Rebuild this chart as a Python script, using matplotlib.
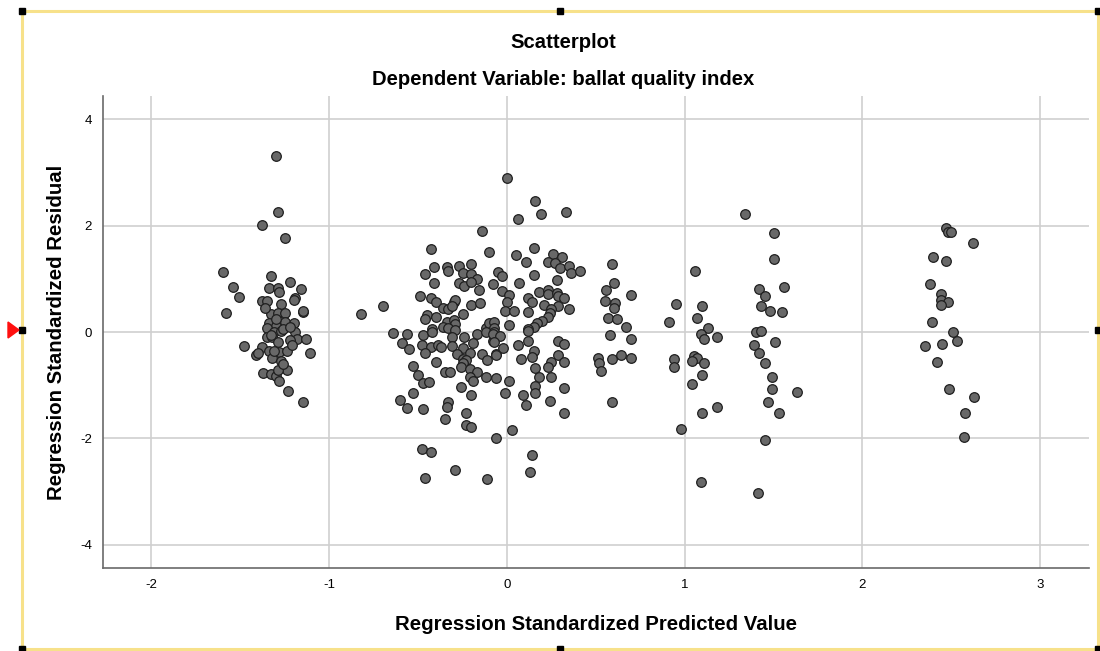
import matplotlib.pyplot as plt
import numpy as np
from matplotlib.patches import Rectangle, Polygon

plt.switch_backend('Agg')
plt.rcParams['font.family'] = ['Liberation Sans', 'DejaVu Sans']

# standardized predicted value / standardized residual, grouped by predicted band
pred_band1 = [-1.30, -1.29, -1.38, -1.25, -1.60, -1.33, -1.54, -1.34, -1.29, -1.28,
              -1.22, -1.16, -1.51, -1.19, -1.38, -1.35, -1.27, -1.15, -1.15, -1.58,
              -1.33, -1.29, -1.25, -1.34, -1.25, -1.20, -1.30, -1.35, -1.31, -1.27,
              -1.19, -1.18, -1.13, -1.35, -1.32, -1.29, -1.22, -1.48, -1.38, -1.34,
              -1.28, -1.24, -1.21, -1.41, -1.32, -1.27, -1.11, -1.37, -1.33, -1.30,
              -1.28, -1.24, -1.29, -1.23, -1.15, -1.30, -1.26, -1.33, -1.22, -1.36,
              -1.26, -1.31, -1.20, -1.40]
resid_band1 = [3.31, 2.26, 2.01, 1.77, 1.13, 1.05, 0.85, 0.83, 0.83, 0.75,
               0.94, 0.81, 0.66, 0.64, 0.58, 0.58, 0.53, 0.38, 0.39, 0.36,
               0.34, 0.36, 0.36, 0.17, 0.19, 0.17, 0.11, 0.08, 0.00, 0.02,
               0.00, -0.13, -0.13, -0.09, -0.09, -0.19, -0.15, -0.26, -0.28, -0.36,
               -0.38, -0.36, -0.24, -0.43, -0.49, -0.55, -0.39, -0.77, -0.79, -0.83,
               -0.92, -0.71, -0.71, -1.11, -1.32, 0.25, 0.05, -0.05, 0.10, 0.45,
               -0.60, -0.35, 0.60, -0.40]

pred_band2 = [-0.82, -0.70, -0.64, -0.60,
              -0.14, -0.43, -0.10, -0.46, -0.41, -0.34, -0.33, -0.27, -0.20, -0.25,
              -0.20, -0.17, -0.41, -0.27, -0.24, -0.20, -0.16, -0.08, -0.49, -0.43,
              -0.40, -0.36, -0.33, -0.30, -0.29, -0.31, -0.25, -0.20, -0.15, -0.45,
              -0.40, -0.46, -0.34, -0.30, -0.29, -0.42, -0.36, -0.33, -0.29, -0.12,
              -0.10,
              0.15, 0.05, 0.11, 0.26, 0.31, 0.23, 0.27, 0.30, 0.35, 0.36,
              0.41, -0.05, -0.03, 0.15, 0.28, 0.07, -0.03, 0.01, 0.18, 0.23,
              0.23, 0.28, 0.29, 0.32, 0.12, 0.14, 0.00, 0.21, 0.29, 0.25,
              0.35, -0.01, 0.04, 0.12, 0.24, 0.23, 0.20, 0.17, 0.15, 0.12,
              0.01, -0.07, -0.07, 0.00, 0.16, 0.19, 0.33, 0.06,
              -0.56, -0.47, -0.42, -0.31, -0.24, -0.17, -0.12, -0.07, -0.59, -0.48,
              -0.43, -0.39, -0.37, -0.31, -0.25, -0.19, -0.08, -0.55, -0.46, -0.28,
              -0.21, -0.14, -0.06, -0.25, -0.23, -0.11, -0.25, -0.40, -0.53, -0.26,
              -0.21, -0.35, -0.32, -0.17, -0.50, -0.21, -0.12, -0.06, -0.47, -0.44,
              -0.19, -0.26, -0.53, -0.20, -0.33, -0.34, -0.56, -0.47, -0.23, -0.35,
              -0.23, -0.20, -0.06,
              -0.08, -0.04, -0.07, 0.12, 0.06, 0.12, 0.29, 0.32, -0.02, -0.06,
              0.15, 0.14, 0.08, 0.29, 0.25, 0.32, 0.23, 0.16, 0.18, 0.25,
              0.01, 0.16, 0.16, -0.01, 0.09, 0.32, 0.11, 0.24, 0.32, 0.03,
              -0.48, -0.43, -0.46, -0.29, 0.14, 0.13, -0.11]
resid_band2 = [0.34, 0.49, -0.02, -1.28,
               1.90, 1.56, 1.50, 1.09, 1.22, 1.22, 1.15, 1.24, 1.28, 1.11,
               1.09, 1.00, 0.92, 0.92, 0.86, 0.94, 0.79, 0.90, 0.68, 0.64,
               0.56, 0.45, 0.43, 0.56, 0.60, 0.49, 0.34, 0.51, 0.55, 0.32,
               0.28, 0.24, 0.19, 0.23, 0.15, 0.06, 0.09, 0.08, 0.04, 0.08,
               0.17,
               1.58, 1.45, 1.32, 1.47, 1.41, 1.32, 1.30, 1.20, 1.24, 1.11,
               1.15, 1.13, 1.05, 1.07, 0.98, 0.92, 0.77, 0.70, 0.75, 0.79,
               0.71, 0.73, 0.68, 0.64, 0.64, 0.56, 0.56, 0.51, 0.49, 0.43,
               0.43, 0.39, 0.39, 0.38, 0.36, 0.28, 0.21, 0.17, 0.09, 0.06,
               0.13, 0.19, 0.08, 2.90, 2.46, 2.22, 2.26, 2.12,
               -0.04, -0.06, 0.00, -0.09, -0.09, -0.04, 0.00, 0.00, -0.21, -0.24,
               -0.28, -0.24, -0.28, -0.26, -0.30, -0.21, -0.17, -0.32, -0.39, -0.41,
               -0.39, -0.41, -0.41, -0.51, -0.53, -0.53, -0.58, -0.56, -0.64, -0.66,
               -0.70, -0.75, -0.75, -0.75, -0.81, -0.85, -0.85, -0.86, -0.96, -0.94,
               -0.92, -1.03, -1.15, -1.18, -1.32, -1.41, -1.43, -1.45, -1.52, -1.64,
               -1.75, -1.79, -1.99,
               -0.04, -0.08, -0.19, 0.02, -0.24, -0.17, -0.17, -0.23, -0.30, -0.43,
               -0.36, -0.47, -0.51, -0.43, -0.56, -0.56, -0.66, -0.68, -0.85, -0.85,
               -0.92, -1.02, -1.15, -1.15, -1.18, -1.05, -1.37, -1.30, -1.52, -1.84,
               -2.20, -2.26, -2.74, -2.59, -2.31, -2.63, -2.76]

pred_band3 = [0.59, 0.60, 0.56, 0.70, 0.55, 0.61, 0.60, 0.57, 0.62, 0.67,
              0.58, 0.70, 0.51, 0.52, 0.53, 0.59, 0.64, 0.70, 0.59,
              1.06, 0.95, 1.10, 0.91, 1.07, 1.13, 1.09, 1.11, 1.18, 0.94,
              0.94, 1.05, 1.07, 1.04, 1.11, 1.10, 1.04, 1.18, 1.10, 0.98, 1.09]
resid_band3 = [1.28, 0.92, 0.79, 0.70, 0.58, 0.54, 0.45, 0.26, 0.24, 0.09,
               -0.06, -0.13, -0.49, -0.58, -0.73, -0.51, -0.43, -0.49, -1.32,
               1.15, 0.53, 0.49, 0.19, 0.26, 0.08, -0.04, -0.13, -0.09, -0.51,
               -0.66, -0.45, -0.49, -0.55, -0.58, -0.81, -0.98, -1.41, -1.52, -1.82, -2.82]

pred_band4 = [1.34, 1.50, 1.50, 1.42, 1.56, 1.45, 1.43, 1.48, 1.55, 1.40, 1.43,
              1.39, 1.51, 1.42, 1.45, 1.49, 1.49, 1.63, 1.47, 1.53, 1.45, 1.41]
resid_band4 = [2.22, 1.86, 1.37, 0.81, 0.85, 0.68, 0.49, 0.39, 0.38, 0.00, 0.02,
               -0.24, -0.19, -0.39, -0.58, -0.85, -1.07, -1.13, -1.32, -1.52, -2.03, -3.03]

pred_band5 = [2.47, 2.48, 2.50, 2.62, 2.40, 2.47, 2.38, 2.44, 2.44, 2.48, 2.44,
              2.39, 2.51, 2.53, 2.35, 2.45, 2.42, 2.49, 2.63, 2.58, 2.57]
resid_band5 = [1.95, 1.88, 1.88, 1.67, 1.41, 1.34, 0.90, 0.71, 0.60, 0.56, 0.51,
               0.19, 0.00, -0.17, -0.26, -0.23, -0.56, -1.07, -1.22, -1.52, -1.97]

x_ticks = [-2, -1, 0, 1, 2, 3]
y_ticks = [-4, -2, 0, 2, 4]

pred = np.concatenate([pred_band1, pred_band2, pred_band3, pred_band4, pred_band5])
resid = np.concatenate([resid_band1, resid_band2, resid_band3, resid_band4, resid_band5])

fig = plt.figure(figsize=(11, 6.51), dpi=100)
ax = fig.add_axes([0.0936, 0.1275, 0.8964, 0.725])

ax.scatter(pred, resid, s=48, facecolor='#686868', edgecolor='#1f1f1f',
           linewidth=0.9, zorder=3)

ax.set_xlim(-2.273, 3.275)
ax.set_ylim(-4.436, 4.436)
ax.set_xticks(x_ticks)
ax.set_yticks(y_ticks)
ax.set_xticklabels([str(v) for v in x_ticks])
ax.set_yticklabels([str(v) for v in y_ticks])
ax.tick_params(length=0, labelsize=9.5, pad=8)
ax.grid(True, color='#cfcfcf', linewidth=1.2, zorder=0)
ax.set_axisbelow(True)
for side in ['top', 'right']:
    ax.spines[side].set_visible(False)
for side in ['left', 'bottom']:
    ax.spines[side].set_color('#6a6a6a')
    ax.spines[side].set_linewidth(1.2)

ax.set_xlabel("Regression Standardized Predicted Value", fontsize=14.7,
              fontweight='bold', labelpad=17)
ax.set_ylabel("Regression Standardized Residual", fontsize=14.7,
              fontweight='bold', labelpad=10)

fig.text(0.512, 0.935, "Scatterplot", ha='center', va='center',
         fontsize=14.6, fontweight='bold')
fig.text(0.512, 0.878, "Dependent Variable: ballat quality index", ha='center',
         va='center', fontsize=14.6, fontweight='bold')

# selection frame with handles around the chart object
W, H = 1100, 651
x0, x1 = 22 / W, 1098 / W
y0, y1 = 1 - 649 / H, 1 - 11 / H
fig.add_artist(Rectangle((x0, y0), x1 - x0, y1 - y0, transform=fig.transFigure,
                         fill=False, edgecolor='#f7e18a', linewidth=2.2))
hw, hh = 6 / W, 6 / H
xm, ym = (x0 + x1) / 2, (y0 + y1) / 2
for hx, hy in [(x0, y0), (x0, y1), (x1, y0), (x1, y1),
               (xm, y0), (xm, y1), (x0, ym), (x1, ym)]:
    fig.add_artist(Rectangle((hx - hw / 2, hy - hh / 2), hw, hh,
                             transform=fig.transFigure, color='black'))
fig.add_artist(Polygon([(8 / W, ym + 8 / H), (8 / W, ym - 8 / H), (19 / W, ym)],
                       closed=True, transform=fig.transFigure, color='#ff1010'))

plt.savefig("out.png", dpi=100)
